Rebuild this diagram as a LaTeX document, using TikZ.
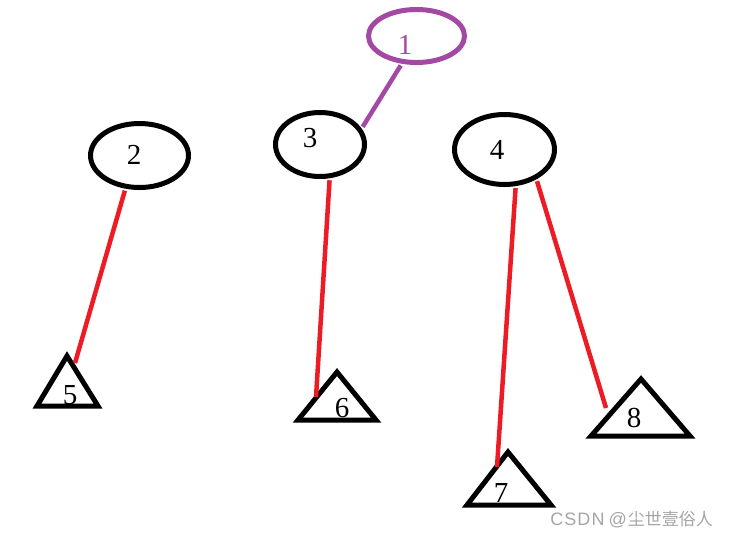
\documentclass[tikz,border=0pt]{standalone}
\usepackage{fontspec}
\setmainfont{Liberation Serif}
\newfontfamily\cjk{Noto Sans CJK SC}
\newfontfamily\latinsans[LetterSpace=6]{Liberation Sans}
\usetikzlibrary{shapes.geometric}
\definecolor{paintred}{RGB}{237,28,36}
\definecolor{paintpurple}{RGB}{163,73,164}
\definecolor{markgray}{RGB}{165,165,165}
\begin{document}
\begin{tikzpicture}[x=1pt, y=-1pt,
  vertex/.style={draw, ellipse, line width=5pt, inner sep=0pt},
  subtree/.style={draw, line width=5pt, line join=miter},
  digit/.style={inner sep=0pt, font=\fontsize{29}{29}\selectfont},
  edge/.style={line width=4.5pt, paintred, shorten <=2pt}]

  \useasboundingbox (0,0) rectangle (730,539);

  % the ellipses
  \node[vertex, paintpurple, minimum width=96pt, minimum height=53pt] (n1) at (416.5,36) {};
  \node[vertex, minimum width=98pt, minimum height=64pt] (n2) at (139.5,155.5) {};
  \node[vertex, minimum width=89pt, minimum height=64pt] (n3) at (320,144.5) {};
  \node[vertex, minimum width=100pt, minimum height=70pt] (n4) at (504.5,149.5) {};

  \node[digit, text=paintpurple] (l1) at (405,45) {1};
  \node[digit] (l2) at (134,155) {2};
  \node[digit] (l3) at (310,138) {3};
  \node[digit] (l4) at (497,150) {4};

  % the subtrees
  \draw[subtree] (67,356) -- (98,406) -- (37,406) -- cycle;
  \draw[subtree] (337,372) -- (376,420) -- (298,420) -- cycle;
  \draw[subtree] (508,452) -- (551,505) -- (467,505) -- cycle;
  \draw[subtree] (641,379) -- (690,436) -- (591,436) -- cycle;

  \node[digit] (l5) at (70,395) {5};
  \node[digit] (l6) at (342,408) {6};
  \node[digit] (l7) at (501,493) {7};
  \node[digit] (l8) at (634,418) {8};

  \coordinate (e5) at (75,363);
  \coordinate (e6) at (316,397);
  \coordinate (e7) at (497,467);
  \coordinate (e8) at (606,408);

  \draw[edge] (n2.-113) -- (e5);
  \draw[edge] (n3.-74) -- (e6);
  \draw[edge] (n4.-73) -- (e7);
  \draw[edge] (n4.-43) -- (e8);
  \draw[line width=4.5pt, paintpurple, shorten <=2pt, shorten >=2pt] (n1.-118) -- (n3.21);

  \node[anchor=east, inner sep=0pt, text=markgray, font=\fontsize{17}{17}\selectfont] (mark) at (713,520) {{\latinsans\fontsize{18}{18}\selectfont CSDN\hspace{4pt}@}\hspace{1pt}\cjk 尘世壹俗人};
\end{tikzpicture}
\end{document}
